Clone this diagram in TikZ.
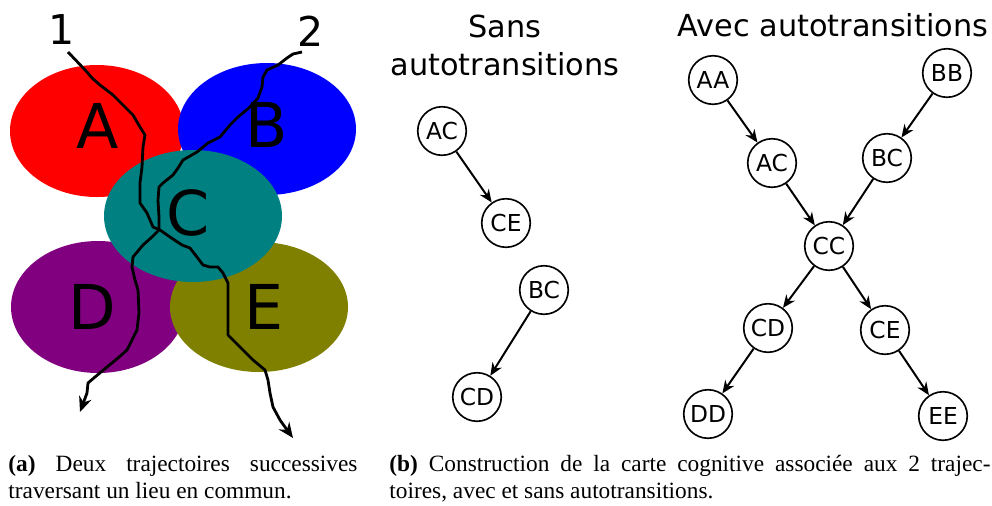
\documentclass[tikz,border=0pt]{standalone}
\usepackage{fontspec}
\setmainfont{Liberation Serif}
\newfontfamily\dejavu{DejaVu Sans}
\usetikzlibrary{arrows.meta,positioning}
\definecolor{zonea}{RGB}{255,0,0}
\definecolor{zoneb}{RGB}{0,0,255}
\definecolor{zonec}{RGB}{0,128,128}
\definecolor{zoned}{RGB}{128,0,128}
\definecolor{zonee}{RGB}{128,128,0}

\begin{document}
\begin{tikzpicture}[x=0.4286pt, y=-0.4286pt,
  etat/.style={circle, draw, line width=0.7pt, minimum size=20.8pt, inner sep=0pt,
    font=\dejavu\fontsize{10}{12}\selectfont},
  trans/.style={-{Stealth[length=5.5pt,width=4.6pt]}, line width=0.85pt},
  traj/.style={-{Stealth[length=6.5pt,width=5.5pt]}, line width=1.2pt, line join=round},
  lettre/.style={font=\dejavu\fontsize{26.5}{30}\selectfont, inner sep=0pt},
  titre/.style={font=\dejavu\fontsize{13}{16}\selectfont, anchor=base, inner sep=0pt},
  legende/.style={font=\fontsize{10}{11.3}\selectfont, anchor=north west, inner sep=0pt,
    align=justify}]

  \useasboundingbox (0,0) rectangle (992,505);

  % ---- (a) lieux ----
  \fill[zonea] (97,131) ellipse [x radius=87, y radius=66];
  \fill[zoneb] (267,129) ellipse [x radius=89, y radius=66];
  \fill[zoned] (98,307) ellipse [x radius=87, y radius=66];
  \fill[zonee] (259,307) ellipse [x radius=89, y radius=65];
  \fill[zonec] (193,216) ellipse [x radius=89, y radius=66];

  \node[lettre] (lieuA) at (98,126) {A};
  \node[lettre] (lieuB) at (267,125) {B};
  \node[lettre] (lieuC) at (188,213) {C};
  \node[lettre] (lieuD) at (92,307) {D};
  \node[lettre] (lieuE) at (264,307) {E};

  \node[font=\dejavu\fontsize{17.6}{20}\selectfont, inner sep=0pt] (num1) at (62,30) {1};
  \node[font=\dejavu\fontsize{17.6}{20}\selectfont, inner sep=0pt] (num2) at (311,31) {2};

  % trajectoire 1
  \draw[traj] (68,52) -- (87,72) -- (92,78) -- (100,85) -- (113,95) -- (123,105)
    -- (133,115) -- (140,127) -- (145,135) -- (143,147) -- (142,167) -- (140,183)
    -- (140,203) -- (147,213) -- (153,227) -- (160,230) -- (170,237) -- (182,245)
    -- (190,248) -- (197,257) -- (203,265) -- (210,267) -- (218,267) -- (223,273)
    -- (228,283) -- (228,313) -- (228,335) -- (240,347) -- (253,360) -- (265,370)
    -- (268,380) -- (270,393) -- (273,407) -- (280,420) -- (285,427) -- (293,438);

  % trajectoire 2
  \draw[traj] (302,52) -- (293,54) -- (287,58) -- (278,65) -- (267,70) -- (263,77)
    -- (262,87) -- (258,98) -- (250,107) -- (238,117) -- (230,125) -- (220,137)
    -- (208,143) -- (197,152) -- (183,160) -- (178,168) -- (173,175) -- (163,183)
    -- (159,187) -- (158,200) -- (159,217) -- (159,230) -- (152,237) -- (143,245)
    -- (133,257) -- (132,267) -- (135,280) -- (138,290) -- (139,313) -- (137,330)
    -- (132,340) -- (127,350) -- (118,358) -- (107,367) -- (95,377) -- (88,383)
    -- (87,393) -- (80,412);

  % ---- (b) sans autotransitions ----
  \node[titre] (sansT) at (505,37) {Sans};
  \node[titre] (sansTb) at (505,75) {autotransitions};

  \node[etat] (sAC) at (442,131) {AC};
  \node[etat] (sCE) at (506,223) {CE};
  \node[etat] (sBC) at (544,290) {BC};
  \node[etat] (sCD) at (477,397) {CD};

  \draw[trans] (sAC) -- (sCE);
  \draw[trans] (sBC) -- (sCD);

  % ---- (b) avec autotransitions ----
  \node[titre] (avecT) at (833,36) {Avec autotransitions};

  \node[etat] (aAA) at (713,80) {AA};
  \node[etat] (aBB) at (947,73) {BB};
  \node[etat] (aAC) at (772,163) {AC};
  \node[etat] (aBC) at (887,158) {BC};
  \node[etat] (aCC) at (829,246) {CC};
  \node[etat] (aCD) at (768,328) {CD};
  \node[etat] (aCE) at (885,330) {CE};
  \node[etat] (aDD) at (708,414) {DD};
  \node[etat] (aEE) at (943,416) {EE};

  \foreach \a/\b in {aAA/aAC, aBB/aBC, aAC/aCC, aBC/aCC, aCC/aCD, aCC/aCE, aCD/aDD, aCE/aEE}
    \draw[trans] (\a) -- (\b);

  % ---- legendes ----
  \node[legende, text width=149.6pt] (capA) at (8,455)
    {\textbf{(a)} Deux trajectoires successives\linebreak traversant un lieu en commun.};
  \node[legende, text width=257.6pt] (capB) at (389,455)
    {\textbf{(b)} Construction de la carte cognitive associée aux 2 trajec-\linebreak toires, avec et sans autotransitions.};

\end{tikzpicture}
\end{document}
